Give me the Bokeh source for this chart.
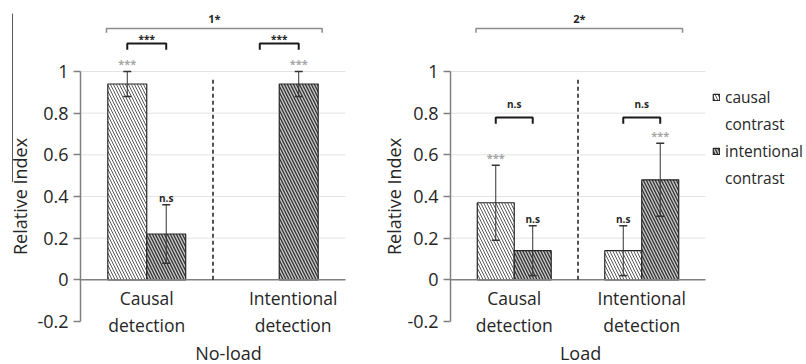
import math
from bokeh.plotting import figure
from bokeh.layouts import row
from bokeh.models import (ColumnDataSource, Whisker, TeeHead, Label, LabelSet,
                          FixedTicker, Legend, LegendItem, Range1d)
from bokeh.core.properties import value
from bokeh.embed import file_html
from bokeh.resources import INLINE

# ---------------- data ----------------
categories = ["Causal detection", "Intentional detection"]
series_names = ["causal contrast", "intentional contrast"]
y_ticks = [-0.2, 0.0, 0.2, 0.4, 0.6, 0.8, 1.0]
y_tick_labels = ["-0.2", "0", "0.2", "0.4", "0.6", "0.8", "1"]

noload_causal = [0.94, 0.0]
noload_causal_err = [0.06, 0.0]
noload_intentional = [0.22, 0.94]
noload_intentional_err = [0.14, 0.06]
noload_causal_sig = ["***", ""]
noload_intentional_sig = ["n.s", "***"]
noload_pair_sig = ["***", "***"]
noload_overall = "1*"

load_causal = [0.37, 0.14]
load_causal_err = [0.18, 0.12]
load_intentional = [0.14, 0.48]
load_intentional_err = [0.12, 0.175]
load_causal_sig = ["***", "n.s"]
load_intentional_sig = ["n.s", "***"]
load_pair_sig = ["n.s", "n.s"]
load_overall = "2*"

# ---------------- style ----------------
FONT = "Open Sans"
TXT = "#262626"
GRAY_STAR = "#a6a6a6"
Y_TOP = 1.3409            # value at top edge of canvas
Y_BOT = -0.4066           # value at bottom edge of canvas
H = 364


def sig_color(s):
    return GRAY_STAR if s == "***" else TXT


def make_panel(name, causal, causal_err, intent, intent_err, causal_sig, intent_sig,
               pair_sig, overall, width, x_lo, x_hi, pair_y, ylab_x, cat_shift,
               name_x, bar_w, with_legend=False, artifact=False):
    ncat = len(categories)
    p = figure(width=width, height=H, min_border=0, min_border_left=0,
               min_border_right=0, min_border_top=0, min_border_bottom=0,
               x_range=Range1d(x_lo, x_hi), y_range=Range1d(Y_BOT, Y_TOP),
               x_axis_location=None, output_backend="svg", toolbar_location=None)
    p.outline_line_color = None
    p.grid.visible = False

    # y axis, placed at x = 0 of the data
    ax = p.yaxis[0]
    ax.fixed_location = 0
    ax.ticker = FixedTicker(ticks=y_ticks)
    ax.major_label_overrides = dict(zip(y_ticks, y_tick_labels))
    ax.bounds = (y_ticks[0], y_ticks[-1])
    ax.axis_line_color = "#808080"
    ax.axis_line_width = 1.5
    ax.major_tick_line_color = "#808080"
    ax.major_tick_line_width = 1.5
    ax.major_tick_out = 7
    ax.major_tick_in = 0
    ax.minor_tick_line_color = None
    ax.major_label_standoff = 5
    ax.major_label_text_font = FONT
    ax.major_label_text_font_size = "18px"
    ax.major_label_text_color = TXT

    # grid lines over the plotting area only
    gy = [t for t in y_ticks if t > 0]
    p.segment(x0=[0] * len(gy), x1=[ncat] * len(gy), y0=gy, y1=gy,
              line_color="#e3e3e3", line_width=1, level="underlay")

    centers = [i + 0.5 for i in range(ncat)]
    xc = [c - bar_w / 2 for c in centers]
    xi = [c + bar_w / 2 for c in centers]

    def keep(vals, errs):
        return [k for k in range(len(vals)) if vals[k] > 0 or errs[k] > 0]

    kc = keep(causal, causal_err)
    ki = keep(intent, intent_err)
    src_c = ColumnDataSource(dict(x=[xc[k] for k in kc], top=[causal[k] for k in kc]))
    src_i = ColumnDataSource(dict(x=[xi[k] for k in ki], top=[intent[k] for k in ki]))
    r_c = p.vbar(x="x", top="top", bottom=0, width=bar_w, source=src_c,
                 fill_color="white", hatch_pattern="left_diagonal_line",
                 hatch_color="#595959", hatch_weight=1.0, hatch_scale=6,
                 line_color="#262626", line_width=1.2)
    r_i = p.vbar(x="x", top="top", bottom=0, width=bar_w, source=src_i,
                 fill_color="#c4c4c4", hatch_pattern="left_diagonal_line",
                 hatch_color="#333333", hatch_weight=1.3, hatch_scale=6,
                 line_color="#262626", line_width=1.2)

    # zero line and divider
    p.segment(x0=[0], x1=[ncat], y0=[0], y1=[0], line_color="#808080", line_width=1.5)
    for b in range(1, ncat):
        p.segment(x0=b, y0=0, x1=b, y1=0.97, line_color="#1a1a1a", line_width=1.5,
                  line_dash="4 3")

    # error bars
    ex, eu, el = [], [], []
    for xs, vals, errs in ((xc, causal, causal_err), (xi, intent, intent_err)):
        for k in range(len(vals)):
            if errs[k] > 0:
                ex.append(xs[k]); eu.append(vals[k] + errs[k]); el.append(vals[k] - errs[k])
    esrc = ColumnDataSource(dict(base=ex, upper=eu, lower=el))
    p.add_layout(Whisker(source=esrc, base="base", upper="upper", lower="lower",
                         dimension="height", line_color="#333333", line_width=1,
                         level="annotation",
                         upper_head=TeeHead(size=8, line_color="#333333", line_width=1.5),
                         lower_head=TeeHead(size=8, line_color="#333333", line_width=1.5)))

    # per-bar significance marks
    sx, sy, st, scol, sfs = [], [], [], [], []
    for xs, vals, errs, sigs in ((xc, causal, causal_err, causal_sig),
                                 (xi, intent, intent_err, intent_sig)):
        for k in range(len(vals)):
            if sigs[k]:
                sx.append(xs[k]); sy.append(vals[k] + errs[k] + 0.015)
                st.append(sigs[k]); scol.append(sig_color(sigs[k]))
                sfs.append("11px" if sigs[k] == "***" else "10px")
    ssrc = ColumnDataSource(dict(x=sx, y=sy, text=st, color=scol, fs=sfs))
    p.add_layout(LabelSet(x="x", y="y", text="text", source=ssrc, text_color="color",
                          text_font=value(FONT), text_font_size="fs",
                          text_font_style="bold", text_align="center",
                          text_baseline="alphabetic"))

    # pair brackets within each category
    bx, by, tx, ty, tt = [], [], [], [], []
    for k in range(ncat):
        bx.append([xc[k], xc[k], xi[k], xi[k]])
        by.append([pair_y - 0.03, pair_y, pair_y, pair_y - 0.03])
        tx.append(centers[k])
        ty.append(pair_y + (0.005 if pair_sig[k] == "***" else 0.045))
        tt.append(pair_sig[k])
    p.multi_line(xs=bx, ys=by, line_color="#1a1a1a", line_width=2)
    p.add_layout(LabelSet(x="x", y="y", text="text",
                          source=ColumnDataSource(dict(x=tx, y=ty, text=tt)),
                          text_color=TXT, text_font=value(FONT), text_font_size="10px",
                          text_font_style="bold", text_align="center",
                          text_baseline="alphabetic"))

    # overall bracket
    ox0 = centers[0] - bar_w - 0.01
    ox1 = centers[-1] + bar_w + 0.03
    oy = 1.206
    p.line(x=[ox0, ox0, ox1, ox1], y=[oy - 0.02, oy, oy, oy - 0.02],
           line_color="#8c8c8c", line_width=1.5)
    p.add_layout(Label(x=(ox0 + ox1) / 2, y=oy + 0.048, text=overall, text_color=TXT,
                       text_font=FONT, text_font_size="11px", text_font_style="bold",
                       text_align="center", text_baseline="middle"))

    # category labels (two lines)
    lx, ly, lt = [], [], []
    for k, cat in enumerate(categories):
        for j, part in enumerate(cat.split(" ", 1)):
            lx.append(centers[k] + cat_shift[k]); ly.append(-0.0897 - 0.125 * j); lt.append(part)
    p.add_layout(LabelSet(x="x", y="y", text="text",
                          source=ColumnDataSource(dict(x=lx, y=ly, text=lt)),
                          text_color=TXT, text_font=value(FONT), text_font_size="17.5px",
                          text_align="center", text_baseline="middle"))

    # panel name & y title
    p.add_layout(Label(x=name_x, y=-0.35, text=name, text_color=TXT, text_font=FONT,
                       text_font_size="18px", text_align="center", text_baseline="middle"))
    p.add_layout(Label(x=ylab_x, y=0.4, text="Relative Index", angle=math.pi / 2,
                       text_color=TXT, text_font=FONT, text_font_size="18px",
                       text_align="center", text_baseline="middle"))

    if artifact:
        p.segment(x0=[-0.513], x1=[-0.513], y0=[1.278], y1=[0.47],
                  line_color="#595959", line_width=1)

    if with_legend:
        d1 = p.vbar(x=[], top=[], width=0.1, fill_alpha=0, line_alpha=0)
        d2 = p.vbar(x=[], top=[], width=0.1, fill_alpha=0, line_alpha=0)
        items = []
        for r, d, nm in ((r_c, d1, series_names[0]), (r_i, d2, series_names[1])):
            a, b = nm.split(" ", 1)
            items.append(LegendItem(label=a, renderers=[r]))
            items.append(LegendItem(label=b, renderers=[d]))
        leg = Legend(items=items, location=(332, 175), orientation="vertical",
                     glyph_width=8, glyph_height=8, label_standoff=5, label_height=20,
                     spacing=5, padding=0, margin=0, border_line_color=None,
                     background_fill_alpha=0, label_text_font=FONT,
                     label_text_font_size="15.5px", label_text_color=TXT)
        p.add_layout(leg)
    return p


p1 = make_panel("No-load", noload_causal, noload_causal_err, noload_intentional,
                noload_intentional_err, noload_causal_sig, noload_intentional_sig,
                noload_pair_sig, noload_overall, width=380, x_lo=-0.6038, x_hi=2.2642,
                pair_y=1.134, ylab_x=-0.46, cat_shift=[0.0, 0.105], name_x=1.117,
                bar_w=0.294, artifact=True)
p2 = make_panel("Load", load_causal, load_causal_err, load_intentional,
                load_intentional_err, load_causal_sig, load_intentional_sig,
                load_pair_sig, load_overall, width=426, x_lo=-0.549, x_hi=2.7922,
                pair_y=0.779, ylab_x=-0.447, cat_shift=[0.0, 0.0], name_x=1.02,
                bar_w=0.29, with_legend=True)

layout = row(p1, p2)
open("out.html", "w").write(file_html(layout, INLINE))
